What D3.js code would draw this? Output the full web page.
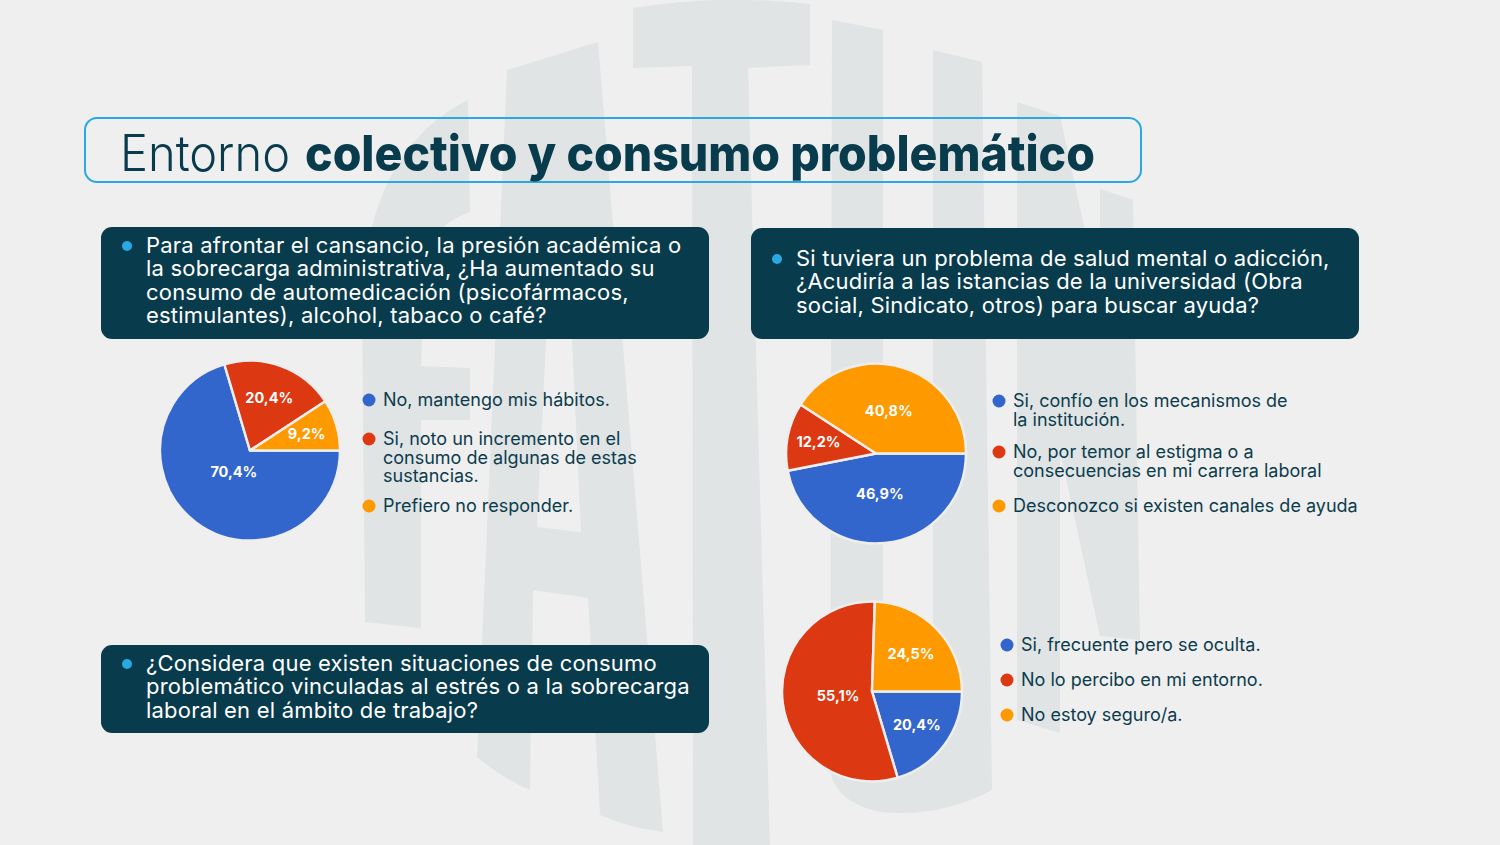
<!DOCTYPE html>
<html>
<head>
<meta charset="utf-8">
<script src="https://cdn.jsdelivr.net/npm/d3@7"></script>
<style>
  html, body { margin: 0; padding: 0; background: #efefef; }
  svg { display: block; }
</style>
</head>
<body>
<svg id="chart" width="1500" height="845"></svg>
<script>
// ---------- DATA ----------
const titleLight = "Entorno";
const titleBold = "colectivo y consumo problemático";

const question1 = [
  "Para afrontar el cansancio, la presión académica o",
  "la sobrecarga administrativa, ¿Ha aumentado su",
  "consumo de automedicación (psicofármacos,",
  "estimulantes), alcohol, tabaco o café?"
];
const question2 = [
  "Si tuviera un problema de salud mental o adicción,",
  "¿Acudiría a las istancias de la universidad (Obra",
  "social, Sindicato, otros) para buscar ayuda?"
];
const question3 = [
  "¿Considera que existen situaciones de consumo",
  "problemático vinculadas al estrés o a la sobrecarga",
  "laboral en el ámbito de trabajo?"
];

const pie1Categories = [
  ["No, mantengo mis hábitos."],
  ["Si, noto un incremento en el", "consumo de algunas de estas", "sustancias."],
  ["Prefiero no responder."]
];
const pie1Values = [70.4, 20.4, 9.2];

const pie2Categories = [
  ["Si, confío en los mecanismos de", "la institución."],
  ["No, por temor al estigma o a", "consecuencias en mi carrera laboral"],
  ["Desconozco si existen canales de ayuda"]
];
const pie2Values = [46.9, 12.2, 40.8];

const pie3Categories = [
  ["Si, frecuente pero se oculta."],
  ["No lo percibo en mi entorno."],
  ["No estoy seguro/a."]
];
const pie3Values = [20.4, 55.1, 24.5];

const sliceColors = ["#3366cc", "#dc3912", "#ff9900"];

// ---------- SETUP ----------
const svg = d3.select("#chart");
const FONT = "Inter, 'Open Sans', sans-serif";
const DARK = "#083b4c";
const TEXT = "#0c3c4c";
const ACCENT = "#29a9e1";

svg.append("rect").attr("width", 1500).attr("height", 845).attr("fill", "#efefef");

// watermark (decorative letters)
const wm = svg.append("g").attr("fill", "#e0e4e5");
const wmPaths = [
  "M365,622 L362,300 Q368,150 468,100 L470,212 Q440,222 425,250 L421,366 L470,368 L470,420 L421,420 L421,628 Z",
  "M507,70 L598,42 L663,832 Q630,828 600,815 L588,598 L533,590 L530,790 Q500,777 477,757 Z",
  "M633,8 Q720,-6 810,4 L810,65 L748,68 L770,845 L693,845 L692,66 L633,68 Z",
  "M832,20 L883,30 L883,760 Q905,772 933,760 L933,50 L982,62 L992,790 Q940,818 880,812 Q835,802 830,770 Z",
  "M1017,102 L1060,116 L1100,300 L1100,189 L1133,200 L1140,640 L1100,636 L1060,450 L1060,733 L1017,720 Z"
];
wm.selectAll("path").data(wmPaths).join("path").attr("d", d => d);
// A counter
svg.append("path").attr("fill", "#efefef")
  .attr("d", "M548,300 L570,298 L581,532 L537,527 Z");

// ---------- TITLE ----------
svg.append("rect")
  .attr("x", 85).attr("y", 118).attr("width", 1056).attr("height", 64)
  .attr("rx", 12).attr("fill", "none").attr("stroke", ACCENT).attr("stroke-width", 2);
svg.append("text")
  .attr("x", 120).attr("y", 171)
  .attr("font-family", FONT).attr("font-size", 50).attr("font-weight", 300).attr("fill", DARK)
  .attr("textLength", 170).attr("lengthAdjust", "spacingAndGlyphs")
  .text(titleLight);
svg.append("text")
  .attr("x", 305).attr("y", 171)
  .attr("font-family", FONT).attr("font-size", 50).attr("font-weight", 800).attr("fill", DARK)
  .attr("textLength", 790).attr("lengthAdjust", "spacingAndGlyphs")
  .text(titleBold);

// ---------- QUESTION BOXES ----------
function questionBox(x, y, w, h, lines, firstBaseline) {
  svg.append("rect").attr("x", x).attr("y", y).attr("width", w).attr("height", h)
    .attr("rx", 11).attr("fill", DARK);
  svg.append("circle").attr("cx", x + 26).attr("cy", firstBaseline - 7).attr("r", 5).attr("fill", ACCENT);
  const t = svg.append("text").attr("font-family", FONT).attr("font-size", 22)
    .attr("letter-spacing", 0.2).attr("fill", "#ffffff");
  lines.forEach((l, i) => {
    t.append("tspan").attr("x", x + 45).attr("y", firstBaseline + i * 23.3).text(l);
  });
}
questionBox(101, 227, 608, 112, question1, 253);
questionBox(751, 228, 608, 111, question2, 266);
questionBox(101, 645, 608, 88, question3, 671);

// ---------- PIES ----------
const fmt = v => d3.format(".1f")(v).replace(".", ",") + "%";

function drawPie(cx, cy, r, values, categories, legendX, legendYs) {
  const pie = d3.pie().sort(null).value(d => d)
    .startAngle(Math.PI / 2).endAngle(Math.PI / 2 + 2 * Math.PI);
  const arcs = pie(values);
  const arc = d3.arc().innerRadius(0).outerRadius(r);
  const g = svg.append("g").attr("transform", `translate(${cx},${cy})`);
  g.selectAll("path").data(arcs).join("path")
    .attr("d", arc)
    .attr("fill", (d, i) => sliceColors[i])
    .attr("stroke", "#eeeeee").attr("stroke-width", 2.5).attr("stroke-linejoin", "round");
  // labels near area centroid of each sector
  g.selectAll("text").data(arcs).join("text")
    .attr("transform", d => {
      const theta = d.endAngle - d.startAngle;
      const mid = (d.startAngle + d.endAngle) / 2;
      const dist = Math.max((2 * r * Math.sin(theta / 2)) / (1.5 * theta), r * 0.3);
      return `translate(${dist * Math.sin(mid)},${-dist * Math.cos(mid)})`;
    })
    .attr("text-anchor", "middle").attr("dy", "0.35em")
    .attr("font-family", FONT).attr("font-weight", 700).attr("font-size", 14.5)
    .attr("fill", "#ffffff")
    .text(d => fmt(d.data));

  // legend
  categories.forEach((lines, i) => {
    const y0 = legendYs[i];
    svg.append("circle").attr("cx", legendX - 14).attr("cy", y0 - 6).attr("r", 6.5)
      .attr("fill", sliceColors[i]);
    const t = svg.append("text").attr("font-family", FONT).attr("font-size", 18)
      .attr("fill", TEXT);
    lines.forEach((l, j) => {
      t.append("tspan").attr("x", legendX).attr("y", y0 + j * 18.5).text(l);
    });
  });
}

drawPie(250, 450.5, 90, pie1Values, pie1Categories, 383, [406, 445, 512]);
drawPie(876, 453.5, 90, pie2Values, pie2Categories, 1013, [407, 458, 512]);
drawPie(872, 691.5, 90, pie3Values, pie3Categories, 1021, [651, 686, 721]);
</script>
</body>
</html>
